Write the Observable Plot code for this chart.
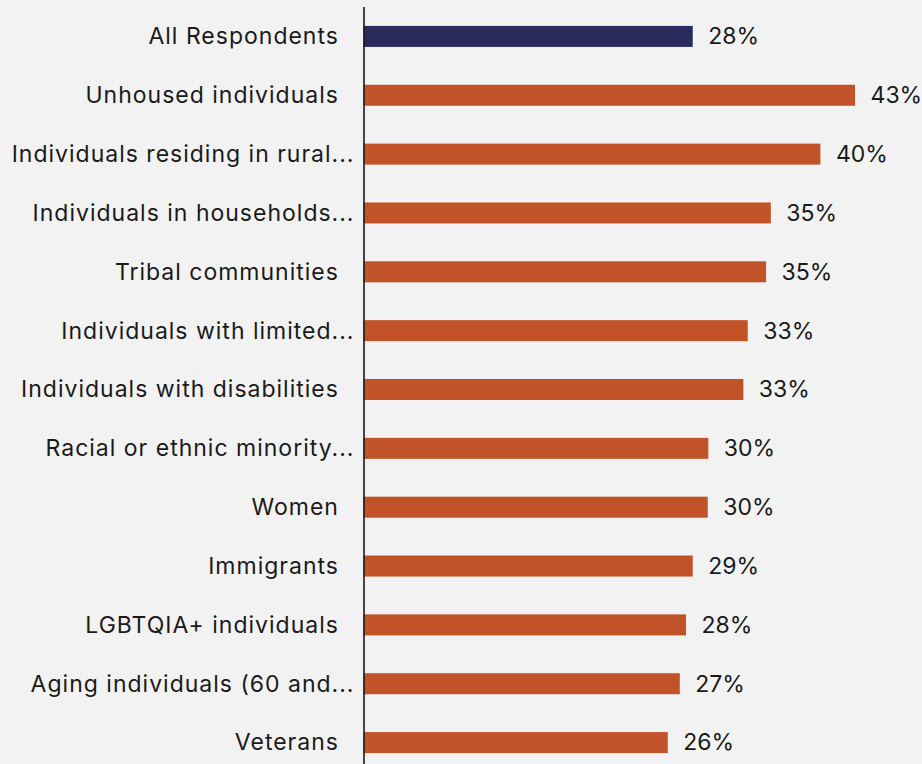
<!DOCTYPE html>
<html>
<head>
<meta charset="utf-8">
<script src="https://cdn.jsdelivr.net/npm/d3@7"></script>
<script src="https://cdn.jsdelivr.net/npm/@observablehq/plot@0.6"></script>
<style>
  html, body { margin: 0; padding: 0; background: #f2f2f2; overflow: hidden; }
  #chart svg { display: block; }
  #chart svg g[aria-label="y-axis tick label"] text { letter-spacing: 1px; }
</style>
</head>
<body>
<div id="chart"></div>
<script>
const categories = [
  "All Respondents\u2002\u200a",
  "Unhoused individuals\u2002\u200a",
  "Individuals residing in rural...",
  "Individuals in households...",
  "Tribal communities\u2002\u200a",
  "Individuals with limited...",
  "Individuals with disabilities\u2002\u200a",
  "Racial or ethnic minority...",
  "Women\u2002\u200a",
  "Immigrants\u2002\u200a",
  "LGBTQIA+ individuals\u2002\u200a",
  "Aging individuals (60 and...",
  "Veterans\u2002\u200a"
];
const values = [28.5, 42.55, 39.55, 35.26, 34.85, 33.26, 32.88, 29.85, 29.8, 28.5, 27.92, 27.38, 26.34];
const valueLabels = ["28%", "43%", "40%", "35%", "35%", "33%", "33%", "30%", "30%", "29%", "28%", "27%", "26%"];
const groups = ["all", "sub", "sub", "sub", "sub", "sub", "sub", "sub", "sub", "sub", "sub", "sub", "sub"];

const data = categories.map((c, i) => ({category: c, value: values[i], label: valueLabels[i], group: groups[i]}));

const chart = Plot.plot({
  width: 922,
  height: 772,
  marginLeft: 363.5,
  marginRight: 4,
  marginTop: 7,
  marginBottom: 0,
  style: {background: "#f2f2f2", fontFamily: "Inter, sans-serif", color: "#1a1a1a"},
  x: {domain: [0, 48], axis: null},
  y: {domain: categories, paddingInner: 0.643, paddingOuter: 0.3215, round: false, label: null},
  color: {domain: ["all", "sub"], range: ["#2b2a5c", "#c25328"]},
  marks: [
    Plot.barX(data, {x: "value", y: "category", fill: "group"}),
    Plot.text(data, {x: "value", y: "category", text: "label", textAnchor: "start", dx: 15, fontSize: 23, fill: "#1a1a1a"}),
    Plot.axisY({tickSize: 0, tickPadding: 9.5, fontSize: 23, label: null, fill: "#1a1a1a"}),
    Plot.ruleX([0], {stroke: "#1a1a1a", strokeWidth: 1.6})
  ]
});
document.getElementById("chart").appendChild(chart);
</script>
</body>
</html>
